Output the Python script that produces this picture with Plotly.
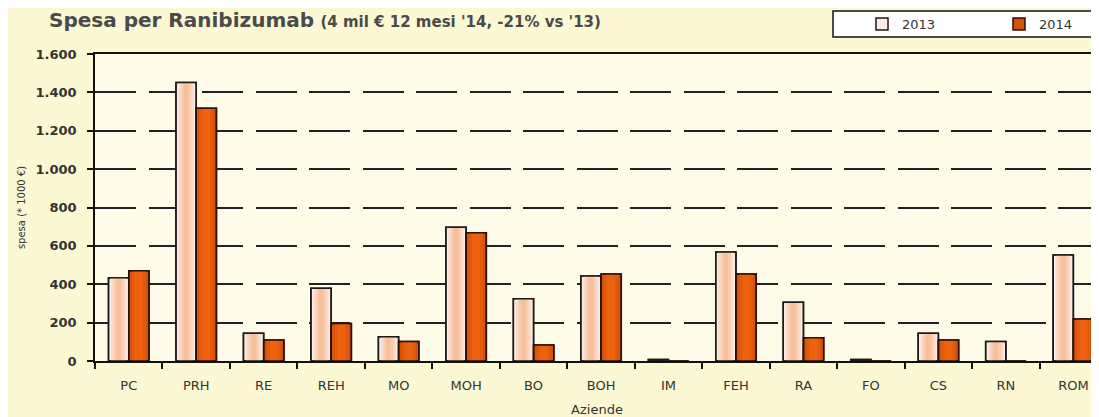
import plotly.graph_objects as go

aziende = ['PC', 'PRH', 'RE', 'REH', 'MO', 'MOH', 'BO', 'BOH', 'IM', 'FEH',
           'RA', 'FO', 'CS', 'RN', 'ROM']
spesa_2013 = [434, 1452, 144, 379, 127, 697, 325, 443, 8, 568, 306, 8, 144, 101, 552]
spesa_2014 = [470, 1317, 109, 196, 101, 669, 83, 453, 0, 453, 121, 0, 109, 0, 219]
y_ticks = [0, 200, 400, 600, 800, 1000, 1200, 1400, 1600]

FONT = 'DejaVu Sans'
TEXT = '#333333'
BAR_W = 0.3

# the page body adds an 8px margin, so the figure sits at (8, 8) in the window;
# plot area spans page x 95..1099, y 54..361
def px_x(v):
    return (v - 95) / 1004

def px_y(v):
    return (361 - v) / 307


def shaded_bar(fig, values, name, offset, base_color, shades, edge):
    # base bar carries the legend entry, narrower strips fake the gradient,
    # a transparent copy on top redraws the outline
    fig.add_trace(go.Bar(
        x=aziende, y=values, name=name, width=BAR_W, offset=offset,
        marker=dict(color=base_color, line=dict(color=edge, width=1.5)),
    ))
    for frac, color in shades:
        w = BAR_W * frac
        fig.add_trace(go.Bar(
            x=aziende, y=values, width=w, offset=offset + (BAR_W - w) / 2,
            marker=dict(color=color, line=dict(width=0)),
            showlegend=False, hoverinfo='skip',
        ))
    fig.add_trace(go.Bar(
        x=aziende, y=values, width=BAR_W, offset=offset,
        marker=dict(color='rgba(0,0,0,0)', line=dict(color=edge, width=1.5)),
        showlegend=False, hoverinfo='skip',
    ))


fig = go.Figure()
shaded_bar(fig, spesa_2013, '2013', -BAR_W, '#fcebe6',
           [(0.75, '#fbdccb'), (0.5, '#f9cdb0'), (0.25, '#f7c09a')], '#1a1a1a')
shaded_bar(fig, spesa_2014, '2014', 0.0, '#d4520a',
           [(0.7, '#e25a0c'), (0.4, '#ec620e')], '#2a1005')

fig.update_layout(
    width=1091, height=409,
    autosize=False,
    margin=dict(l=87, r=0, t=46, b=56, pad=0, autoexpand=False),
    paper_bgcolor='#fcf8d4',
    plot_bgcolor='#fefce9',
    separators=',.',
    barmode='overlay',
    font=dict(family=FONT, color=TEXT),
    showlegend=True,
    legend=dict(
        orientation='h', x=px_x(862), y=px_y(24), xanchor='left', yanchor='middle',
        bgcolor='rgba(0,0,0,0)', borderwidth=0,
        font=dict(family=FONT, size=13, color='#333'),
        entrywidth=92, entrywidthmode='pixels',
    ),
    xaxis=dict(
        range=[-0.5, 14.38], automargin=False,
        showline=True, linecolor='#111', linewidth=1.5, mirror=True,
        ticks='outside', tickson='boundaries', ticklen=6, tickwidth=1.5, tickcolor='#111',
        ticklabelstandoff=12,
        tickfont=dict(family=FONT, size=13, color=TEXT),
        showgrid=False,
        title=dict(text='Aziende', font=dict(family=FONT, size=13, color=TEXT), standoff=19),
    ),
    yaxis=dict(
        range=[0, 1600], automargin=False,
        tickvals=y_ticks, tickformat=',d',
        showline=True, linecolor='#111', linewidth=1.5,
        ticks='outside', ticklen=6, tickwidth=1.5, tickcolor='#111',
        ticklabelstandoff=8,
        tickfont=dict(family=FONT, size=13, color=TEXT, weight='bold'),
        showgrid=True, gridcolor='#222', gridwidth=1.5, griddash='41px,12.5px',
        zeroline=False,
        title=dict(text='spesa (* 1000 €)', font=dict(family=FONT, size=10, color=TEXT), standoff=8),
    ),
)

# legend frame
fig.add_shape(type='rect', xref='paper', yref='paper', layer='below',
              x0=px_x(833), x1=px_x(1097), y0=px_y(37), y1=px_y(11),
              fillcolor='white', line=dict(color='#111', width=1.5))

fig.add_annotation(
    xref='paper', yref='paper', x=px_x(47), y=px_y(20), xanchor='left', yanchor='middle',
    showarrow=False,
    text="<b>Spesa per Ranibizumab</b> <span style='font-size:15px'><b>(4 mil € 12 mesi '14, -21% vs '13)</b></span>",
    font=dict(family=FONT, size=20, color='#4a4a4a'),
)

fig.write_html('out.html')
